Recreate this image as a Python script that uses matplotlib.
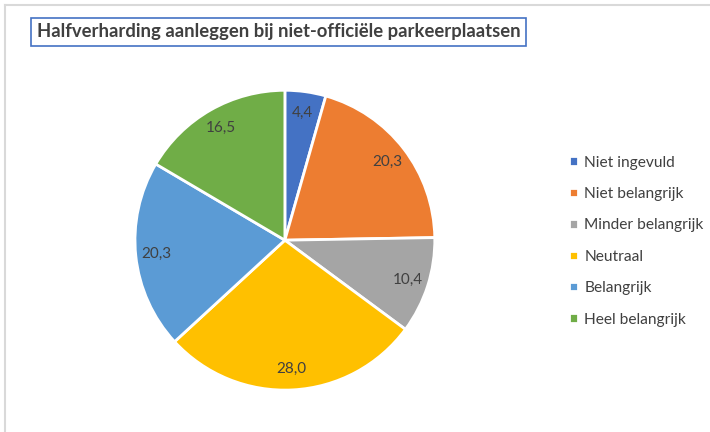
import matplotlib.pyplot as plt
from matplotlib.lines import Line2D

categories = ["Niet ingevuld", "Niet belangrijk", "Minder belangrijk",
              "Neutraal", "Belangrijk", "Heel belangrijk"]
values = [4.4, 20.3, 10.4, 28.0, 20.3, 16.5]
colors = ["#4472C4", "#ED7D31", "#A5A5A5", "#FFC000", "#5B9BD5", "#70AD47"]
title = "Halfverharding aanleggen bij niet-officiële parkeerplaatsen"

plt.rcParams['font.family'] = ['Lato', 'DejaVu Sans']
text_color = "#404040"
total = sum(values)

fig = plt.figure(figsize=(7.1, 4.32), dpi=100)

# light frame at top and left
fig.add_artist(Line2D([0.007, 0.007], [0, 0.988], transform=fig.transFigure,
                      color="#D9D9D9", lw=1.5))
fig.add_artist(Line2D([0.007, 1], [0.988, 0.988], transform=fig.transFigure,
                      color="#D9D9D9", lw=1.5))

ax = fig.add_axes([0.190, 0.097, 0.4225, 0.694])
wedges, texts, autotexts = ax.pie(
    values, colors=colors, startangle=90, counterclock=False,
    autopct=lambda p: f"{p * total / 100:.1f}".replace(".", ","),
    pctdistance=0.86,
    wedgeprops=dict(edgecolor="white", linewidth=2),
    textprops=dict(color=text_color, fontsize=11))
ax.set_xlim(-1, 1)
ax.set_ylim(-1, 1)
ax.set_aspect("equal")

fig.text(0.392, 0.926, title, ha="center", va="center", fontsize=13.3,
         fontweight="bold", color=text_color,
         bbox=dict(boxstyle="square,pad=0.3", facecolor="white",
                   edgecolor="#4472C4", linewidth=1.2))

fig.legend(wedges, categories, loc="center left", bbox_to_anchor=(0.802, 0.442),
           frameon=False, fontsize=11.2, labelcolor=text_color,
           borderaxespad=0, borderpad=0,
           handlelength=0.55, handleheight=0.55, handletextpad=0.4,
           labelspacing=1.12)

fig.savefig("out.png", dpi=100)
